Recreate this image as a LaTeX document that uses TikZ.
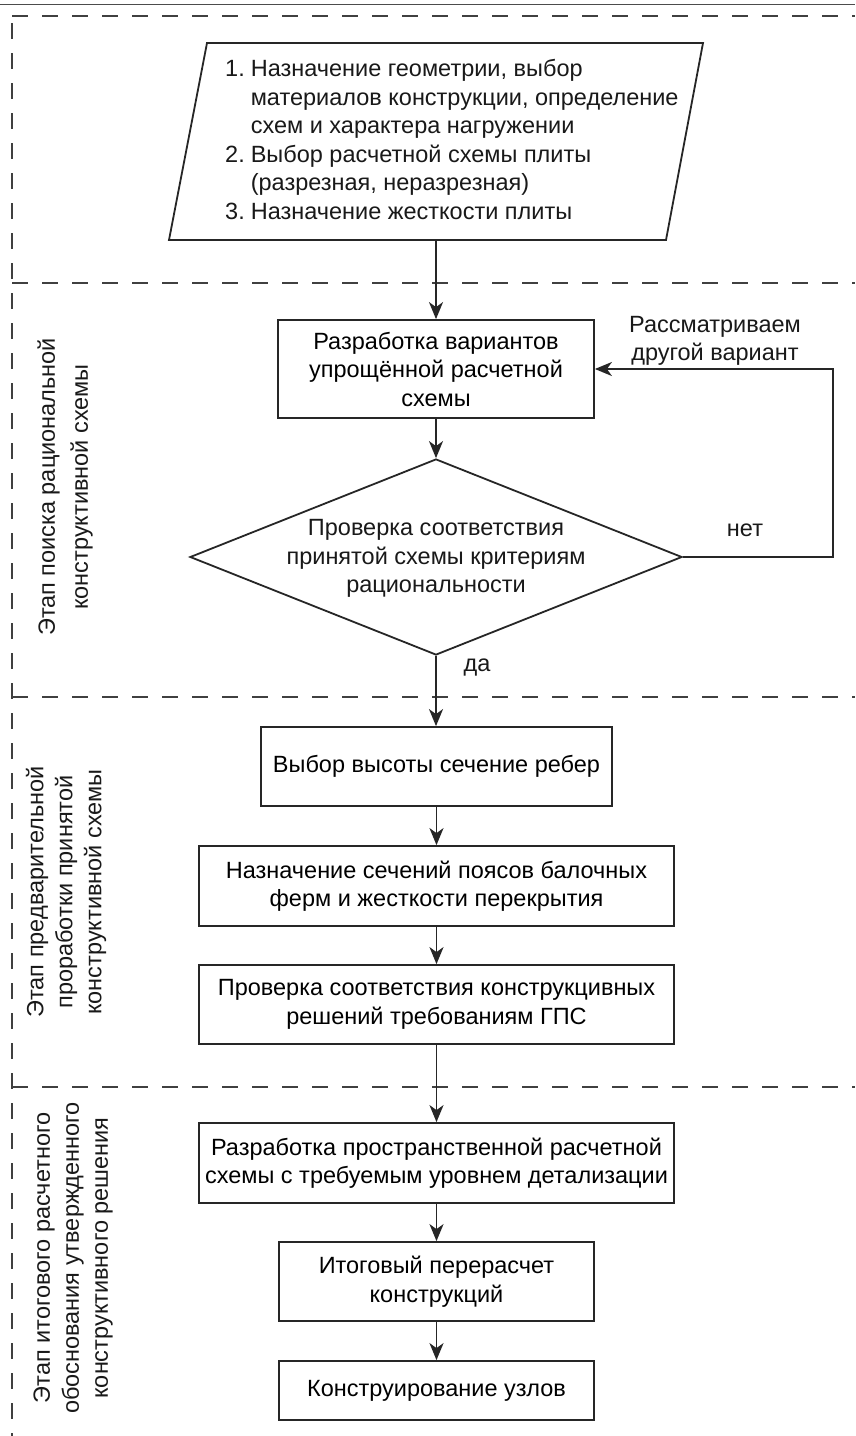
\documentclass[tikz,border=0pt]{standalone}
\usepackage{fontspec}
\setmainfont{Liberation Sans}
\usetikzlibrary{shapes.geometric,arrows.meta}
\begin{document}
\begin{tikzpicture}[x=1pt,y=-1pt,
  ln/.style={draw=black!85, line width=1.8pt},
  box/.style={ln, rectangle, align=center, inner sep=0pt, font=\txt},
  arr/.style={draw=black!85, line width=1.8pt, -{Stealth[length=17pt,width=14pt,inset=5pt]}},
  dashline/.style={draw=black!75, line width=2pt, dash pattern=on 16pt off 14pt},
  lbl/.style={align=center, inner sep=0pt, font=\txt, text=black!90},
  sec/.style={rotate=90, align=center, inner sep=0pt, text=black!90}]
\def\txt{\fontsize{23.5pt}{28.5pt}\selectfont}
\fill[white] (0,0) rectangle (855,1436);
\useasboundingbox (0,0) rectangle (855,1436);
% frame
\draw[black!70, line width=1pt] (0,4) -- (855,4);
\draw[dashline] (12,16) -- (855,16);
\draw[dashline] (12,283) -- (855,283);
\draw[dashline] (12,697) -- (855,697);
\draw[dashline] (12,1087) -- (855,1087);
\draw[dashline] (12,23) -- (12,1436);
% section labels
\node[sec, font={\fontsize{23.5pt}{33pt}\selectfont}] (s1) at (65,487) {Этап поиска рациональной\\конструктивной схемы};
\node[sec, font={\fontsize{23.5pt}{29pt}\selectfont}] (s2) at (66,892) {Этап предварительной\\проработки принятой\\конструктивной схемы};
\node[sec, font={\fontsize{23.5pt}{29pt}\selectfont}] (s3) at (73,1258) {Этап итогового расчетного\\обоснования утвержденного\\конструктивного решения};
% input parallelogram
\node[minimum width=535pt, minimum height=197pt, inner sep=0pt] (inp) at (436,141.5) {};
\draw[ln] (207,43) -- (703,43) -- (666,240) -- (169,240) -- cycle;
\node[anchor=west, inner sep=0pt, font=\txt, text=black!90] (inptxt) at (225,142.5)
 {\begin{tabular}{@{}l@{\hspace{6pt}}l@{}}
 1. & Назначение геометрии, выбор\\
    & материалов конструкции, определение\\
    & схем и характера нагружении\\
 2. & Выбор расчетной схемы плиты\\
    & (разрезная, неразрезная)\\
 3. & Назначение жесткости плиты
 \end{tabular}};
% boxes
\node[box, minimum width=316pt, minimum height=98pt] (b1) at (436,369) {Разработка вариантов\\упрощённой расчетной\\схемы};
\node[diamond, ln, minimum width=492pt, minimum height=196pt, inner sep=0pt] (d) at (436,557) {};
\node[lbl] (dtxt) at (436,558.5) {Проверка соответствия\\принятой схемы критериям\\рациональности};
\node[box, minimum width=351pt, minimum height=79pt] (b2) at (436.5,766.5) {Выбор высоты сечение ребер};
\node[box, minimum width=475pt, minimum height=80pt] (b3) at (436.5,886) {Назначение сечений поясов балочных\\ферм и жесткости перекрытия};
\node[box, minimum width=475pt, minimum height=79pt] (b4) at (436.5,1004.5) {Проверка соответствия конструкцивных\\решений требованиям ГПС};
\node[box, minimum width=475pt, minimum height=80pt] (b5) at (436.5,1163) {Разработка пространственной расчетной\\схемы с требуемым уровнем детализации};
\node[box, minimum width=315pt, minimum height=79pt] (b6) at (436.5,1281.5) {Итоговый перерасчет\\конструкций};
\node[box, minimum width=315pt, minimum height=59pt] (b7) at (436.5,1390.5) {Конструирование узлов};
% labels
\node[lbl] (lre) at (715,341) {Рассматриваем\\другой вариант};
\node[lbl] (lno) at (745,530) {нет};
\node[lbl] (lyes) at (477,668) {да};
% connectors
\draw[arr] (inp.south) -- (b1.north);
\draw[arr] (b1.south) -- (d.north);
\draw[arr] (d.south) -- (d.south |- b2.north);
\draw[arr] (b2.south) -- (b3.north);
\draw[arr] (b3.south) -- (b4.north);
\draw[arr] (b4.south) -- (b5.north);
\draw[arr] (b5.south) -- (b6.north);
\draw[arr] (b6.south) -- (b7.north);
\coordinate (lp) at (833,557);
\draw[arr] (d.east) -- (lp) |- (b1.east);
\end{tikzpicture}
\end{document}
